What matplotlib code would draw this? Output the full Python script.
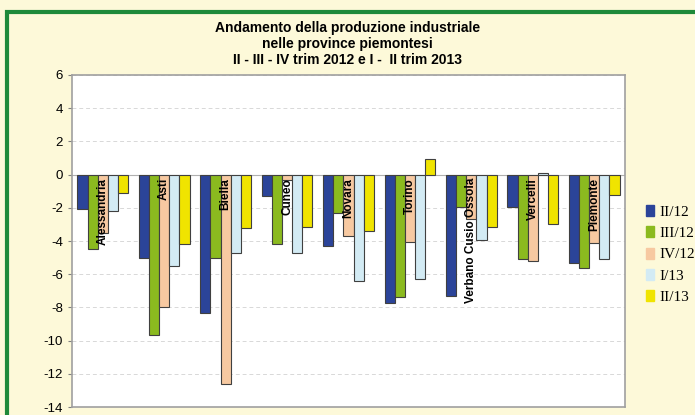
import numpy as np
import matplotlib.pyplot as plt
from matplotlib.patches import Rectangle

plt.rcParams['font.family'] = ['Liberation Sans', 'DejaVu Sans']
plt.rcParams['axes.unicode_minus'] = False

# values
province = ['Alessandria', 'Asti', 'Biella', 'Cuneo', 'Novara', 'Torino',
            'Verbano Cusio Ossola', 'Vercelli', 'Piemonte']
series = ['II/12', 'III/12', 'IV/12', 'I/13', 'II/13']
ii_12 = [-2.05, -5.0, -8.35, -1.27, -4.3, -7.75, -7.3, -1.95, -5.35]
iii_12 = [-4.5, -9.65, -5.05, -4.2, -2.3, -7.4, -1.95, -5.1, -5.65]
iv_12 = [-3.5, -8.0, -12.6, -0.3, -3.7, -4.05, -2.7, -5.2, -4.1]
i_13 = [-2.2, -5.5, -4.75, -4.75, -6.4, -6.3, -3.95, 0.1, -5.1]
ii_13 = [-1.1, -4.2, -3.2, -3.15, -3.4, 0.95, -3.15, -3.0, -1.2]
colors = ['#2B4499', '#8BBA1F', '#F7C9A1', '#D3EBF4', '#F0E400']

fig = plt.figure(figsize=(6.95, 4.15), dpi=100)
fig.patch.set_facecolor('#FDF9D9')
fig.patches.append(Rectangle((7 / 695, -0.1), 1.2, 1 - 12 / 415 + 0.1,
                             transform=fig.transFigure, fill=False,
                             edgecolor='#1E8A3A', linewidth=3))

ax = fig.add_axes([72 / 695, 8 / 415, 553 / 695, 332 / 415])
ax.set_facecolor('white')

x = np.arange(len(province))
w = 0.165
all_vals = [ii_12, iii_12, iv_12, i_13, ii_13]
bars = []
for i, vals in enumerate(all_vals):
    bars.append(ax.bar(x + (i - 2) * w, vals, w, color=colors[i], edgecolor='#404040',
                       linewidth=0.8, zorder=3))

for xi, name in zip(x, province):
    ax.text(xi, -0.2, name, rotation=90, ha='center', va='top',
            fontsize=8.5, fontweight='bold', zorder=4)

ax.set_ylim(-14, 6)
ax.set_xlim(-0.5, len(province) - 0.5)
ax.set_yticks(range(-14, 7, 2))
ax.set_xticks([])
ax.tick_params(axis='y', labelsize=9.5, length=3, color='#808080')
ax.yaxis.grid(True, linestyle=(0, (4, 3)), color='#D8D8D8', linewidth=0.7, zorder=0)
ax.axhline(0, color='#B0B0B0', linewidth=0.8, zorder=2)
for s in ax.spines.values():
    s.set_color('#A0A0A0')
    s.set_linewidth(1.2)

fig.text(0.5, 1 - 44 / 415, 'Andamento della produzione industriale\nnelle province piemontesi\n'
         'II - III - IV trim 2012 e I -  II trim 2013',
         ha='center', va='center', fontsize=10, fontweight='bold', linespacing=1.2)

# legend squares without outline, as in the reference
handles = [Rectangle((0, 0), 1, 1, color=c) for c in colors]
fig.legend(handles, series, loc='upper left', bbox_to_anchor=(646 / 695, 1 - 205 / 415),
           frameon=False, borderpad=0, borderaxespad=0,
           handlelength=0.55, handleheight=0.75, handletextpad=0.3,
           labelspacing=0.48, prop={'family': 'Liberation Serif', 'size': 11})

fig.savefig('out.png', dpi=100, facecolor=fig.get_facecolor())
